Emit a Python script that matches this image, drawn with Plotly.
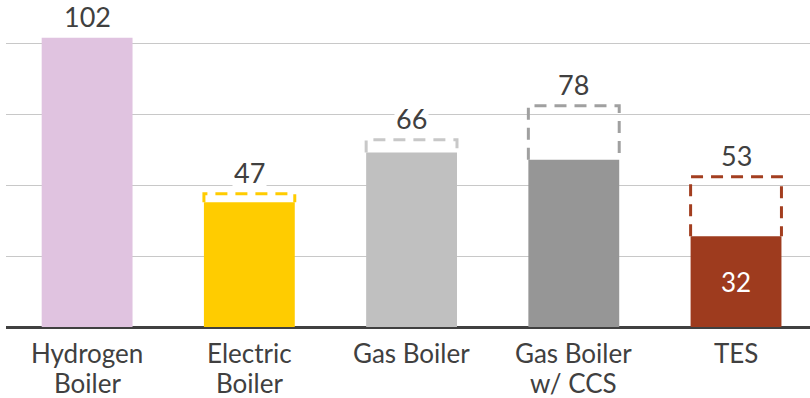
import plotly.graph_objects as go

categories = ["Hydrogen<br>Boiler", "Electric<br>Boiler", "Gas Boiler", "Gas Boiler<br>w/ CCS", "TES"]
solid_values = [102, 44, 61.5, 59, 32]
total_values = [102, 47, 66, 78, 53]
total_labels = ["102", "47", "66", "78", "53"]
inner_labels = ["", "", "", "", "32"]
fill_colors = ["#E0C3E0", "#FFCC00", "#C0C0C0", "#969696", "#9E3B1E"]
dash_colors = ["#E0C3E0", "#FFCC00", "#C8C8C8", "#A0A0A0", "#A33E1F"]

BAR_W = 0.56
FONT = "Lato"
TXT = "#404040"
xs = list(range(len(categories)))

fig = go.Figure()
fig.add_trace(go.Bar(
    x=xs, y=solid_values, width=BAR_W,
    marker=dict(color=fill_colors, line=dict(width=0)),
    text=inner_labels, textposition="inside", insidetextanchor="middle",
    textfont=dict(family=FONT, size=26, color="white"),
    hoverinfo="skip", showlegend=False,
))

# dashed extension outlines (open at the bottom)
for i, (s, t) in enumerate(zip(solid_values, total_values)):
    if t > s:
        fig.add_trace(go.Scatter(
            x=[i - BAR_W / 2, i - BAR_W / 2, i + BAR_W / 2, i + BAR_W / 2],
            y=[s, t, t, s], mode="lines",
            line=dict(color=dash_colors[i], width=3, dash="12px,8px"),
            hoverinfo="skip", showlegend=False,
        ))

for i, t in enumerate(total_values):
    fig.add_annotation(
        x=i, y=t, xref="x", yref="y", text=total_labels[i], showarrow=False,
        yanchor="middle", yshift=21, bgcolor="white", borderpad=1,
        font=dict(family=FONT, size=27, color=TXT),
    )

# category labels (two lines, tight spacing)
for i, cat in enumerate(categories):
    for j, line in enumerate(cat.split("<br>")):
        fig.add_annotation(
            x=i, y=0, xref="x", yref="y", text=line, showarrow=False,
            yanchor="middle", yshift=-(26 + 30 * j),
            font=dict(family=FONT, size=26, color=TXT),
        )

fig.update_layout(
    width=810, height=398,
    margin=dict(l=6, r=0, t=0, b=71),
    paper_bgcolor="white", plot_bgcolor="white",
    xaxis=dict(
        range=[-0.5, 4.456], tickvals=xs, showticklabels=False,
        showgrid=False, zeroline=False, showline=False, ticks="",
    ),
    yaxis=dict(
        range=[0, 115.3], tickvals=[25, 50, 75, 100], showticklabels=False,
        showgrid=True, gridcolor="#C8C8C8", gridwidth=1,
        zeroline=True, zerolinecolor="#404040", zerolinewidth=3,
    ),
)

fig.write_html("out.html")
